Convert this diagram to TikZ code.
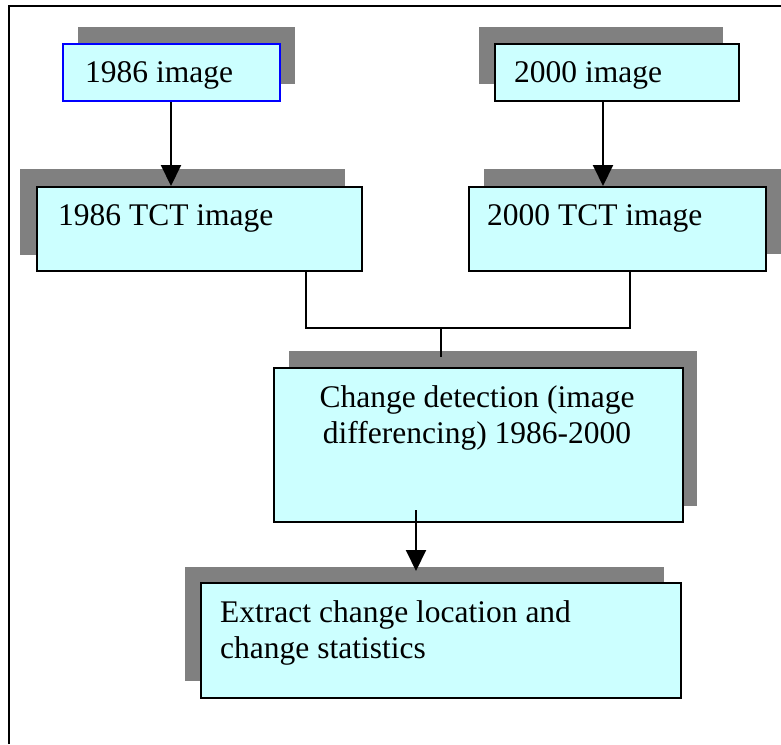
\documentclass[tikz,border=0pt]{standalone}
\usepackage{fontspec}
\setmainfont{Liberation Serif}
\usetikzlibrary{arrows.meta,calc}
\definecolor{boxfill}{HTML}{CCFFFF}
\definecolor{shadowgray}{HTML}{808080}
\definecolor{boxblue}{HTML}{0000FF}
\begin{document}
\begin{tikzpicture}[x=1pt,y=-1pt,
  shadowbox/.style={fill=shadowgray,draw=none},
  flowbox/.style={fill=boxfill,draw=black,line width=2pt},
  lbl/.style={inner sep=0pt,font=\fontsize{31.5}{36}\selectfont},
  conn/.style={draw=black,line width=2pt},
  arr/.style={conn,-{Triangle[width=20pt,length=21pt]}},
]
\useasboundingbox (0,0) rectangle (781,744);
\begin{scope}
\clip (0,0) rectangle (781,744);
% frame (only left and top edges visible)
\draw[line width=2.4pt] (9,744) -- (9,6) -- (781,6);
% shadows
\fill[shadowgray] (78,27) rectangle (295,84);
\fill[shadowgray] (479,27) rectangle (723,84);
\fill[shadowgray] (20,169) rectangle (345,255);
\fill[shadowgray] (484,169) rectangle (783,254);
\fill[shadowgray] (289,351) rectangle (697,506);
\fill[shadowgray] (185,567) rectangle (664,681);
% boxes
\node[flowbox,draw=boxblue,inner sep=0pt,minimum width=217pt,minimum height=57pt,anchor=north west] (b1) at (62,43) {};
\node[flowbox,inner sep=0pt,minimum width=244pt,minimum height=57pt,anchor=north west] (b3) at (494,43) {};
\node[flowbox,inner sep=0pt,minimum width=325pt,minimum height=84pt,anchor=north west] (b2) at (36,186) {};
\node[flowbox,inner sep=0pt,minimum width=297pt,minimum height=84pt,anchor=north west] (b4) at (468,186) {};
\node[flowbox,inner sep=0pt,minimum width=409pt,minimum height=154pt,anchor=north west] (b5) at (273,367) {};
\node[flowbox,inner sep=0pt,minimum width=480pt,minimum height=115pt,anchor=north west] (b6) at (200,582) {};
% texts
\node[lbl,anchor=base west] (t1) at (85,82) {1986 image};
\node[lbl,anchor=base west] (t3) at (514,82) {2000 image};
\node[lbl,anchor=base west] (t2) at (58,225) {1986 TCT image};
\node[lbl,anchor=base west] (t4) at (487,225) {2000 TCT image};
\node[lbl,anchor=base,align=center] (t5) at (477,443) {Change detection (image\\differencing) 1986-2000};
\node[lbl,anchor=base west,align=left] (t6) at (220,658) {Extract change location and\\change statistics};
% connectors
\coordinate (ax1) at (171,0);
\coordinate (ax2) at (603,0);
\coordinate (mL) at (306,328);
\coordinate (mR) at (630,328);
\coordinate (mC) at (441,328);
\coordinate (mE) at (441,357);
\coordinate (dS) at (416,510);
\coordinate (dT) at (416,571);
\draw[arr] (b1.south -| ax1) -- (b2.north -| ax1);
\draw[arr] (b3.south -| ax2) -- (b4.north -| ax2);
\draw[conn] (b2.south -| mL) -- (mL) -- (mR) -- (b4.south -| mR);
\draw[conn] (mC) -- (mE);
\draw[arr] (dS) -- (dT);
\end{scope}
\end{tikzpicture}
\end{document}
